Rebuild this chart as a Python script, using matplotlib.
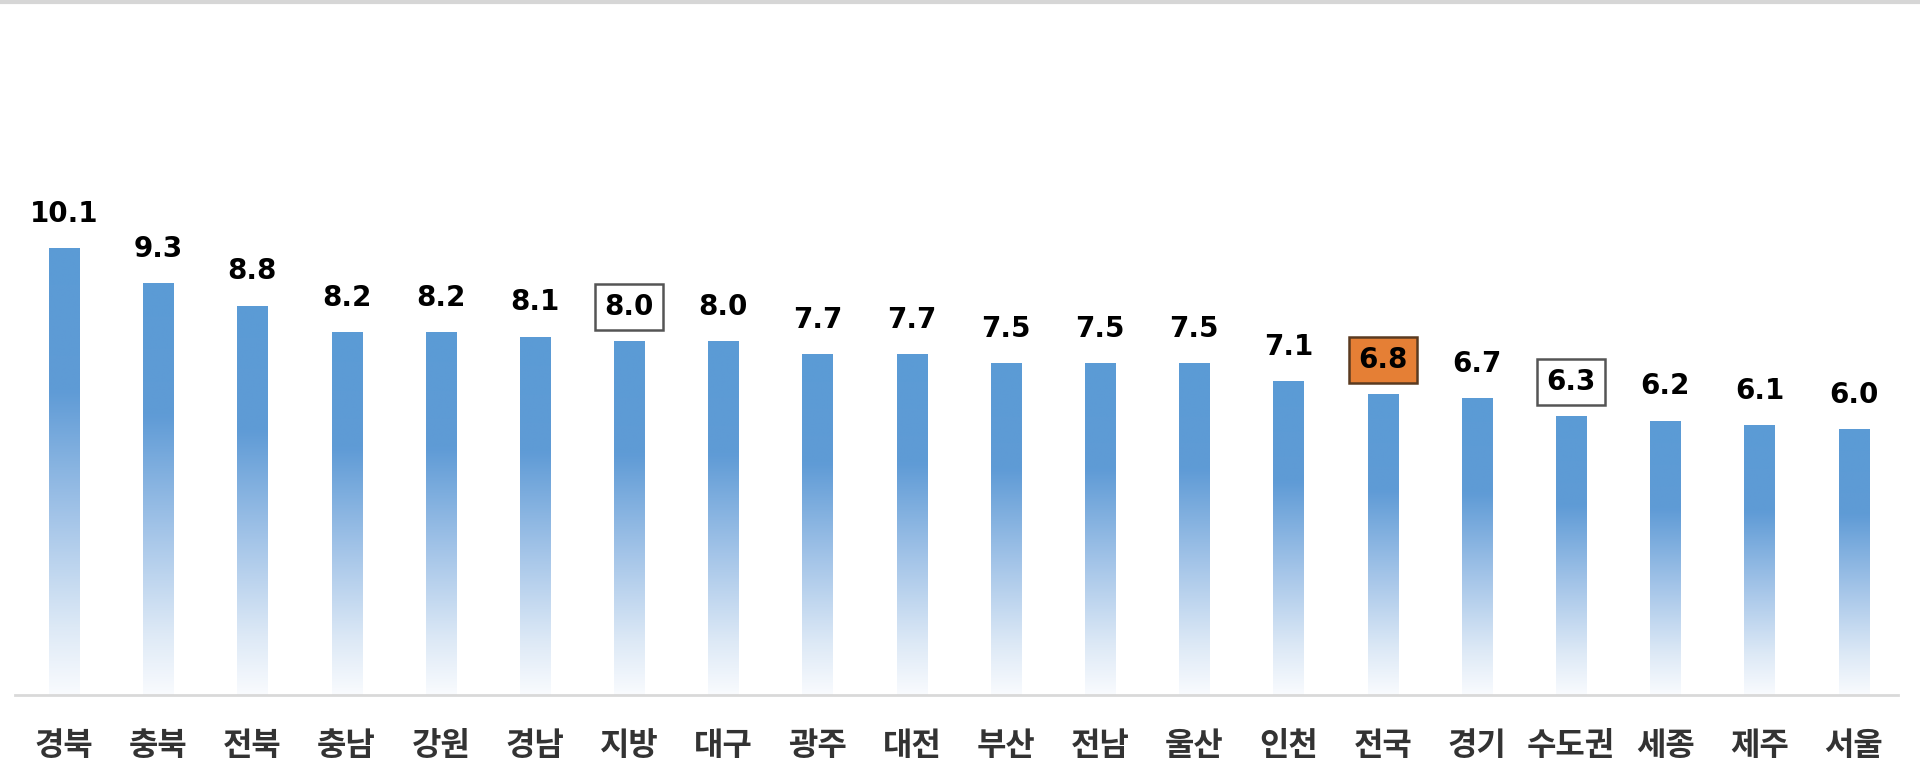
import matplotlib.pyplot as plt
import numpy as np
from matplotlib.colors import LinearSegmentedColormap
from matplotlib.lines import Line2D

plt.rcParams['font.family'] = ['DejaVu Sans', 'Noto Sans CJK KR']

# 지역별 값
regions = ['경북', '충북', '전북', '충남', '강원', '경남', '지방', '대구', '광주', '대전',
           '부산', '전남', '울산', '인천', '전국', '경기', '수도권', '세종', '제주', '서울']
values = [10.1, 9.3, 8.8, 8.2, 8.2, 8.1, 8.0, 8.0, 7.7, 7.7,
          7.5, 7.5, 7.5, 7.1, 6.8, 6.7, 6.3, 6.2, 6.1, 6.0]
boxed = ['지방', '수도권']
highlight = ['전국']

fig = plt.figure(figsize=(19.2, 7.68), dpi=100)
ax = fig.add_axes([15 / 1920, 73 / 768, 1883 / 1920, 685 / 768])

# 막대 그라데이션 (아래 흰색 -> 위 파란색)
cmap = LinearSegmentedColormap.from_list(
    'bar', [(0.0, '#f9fbfe'), (0.15, '#dde9f6'), (0.4, '#a3c4e8'),
            (0.68, '#5f9bd6'), (1.0, '#5b9bd5')])
grad = np.linspace(0, 1, 256).reshape(-1, 1)
w = 0.32
x = np.arange(len(regions))
for xi, v in zip(x, values):
    ax.imshow(grad, extent=[xi - w / 2, xi + w / 2, 0, v], origin='lower',
              aspect='auto', cmap=cmap, vmin=0, vmax=1, zorder=2,
              interpolation='bicubic')

# 값 라벨
for xi, v, r in zip(x, values, regions):
    kw = dict(ha='center', va='center', fontsize=20, fontweight='bold',
              color='black', zorder=5)
    if r in boxed:
        kw['bbox'] = dict(boxstyle='square,pad=0.33', fc='white', ec='#555555', lw=1.8)
    elif r in highlight:
        kw['bbox'] = dict(boxstyle='square,pad=0.33', fc='#e57f35', ec='#5a3a20', lw=1.8)
    ax.annotate(f'{v:.1f}', (xi, v), xytext=(0, 25), textcoords='offset points', **kw)

ax.set_xlim(-0.52, 19.47)
ax.set_ylim(0, 15.5)

ax.set_xticks(x)
ax.set_xticklabels(regions, family=['Noto Sans CJK KR', 'DejaVu Sans'],
                   fontsize=23, fontweight='bold', color='#333333')
ax.tick_params(axis='x', length=0, pad=25)
ax.set_yticks([])
for s in ['top', 'left', 'right']:
    ax.spines[s].set_visible(False)
ax.spines['bottom'].set_color('#d9d9d9')
ax.spines['bottom'].set_linewidth(2)

# 위쪽 회색 테두리
fig.add_artist(Line2D([0, 1], [0.997, 0.997], color='#d6d6d6', lw=3,
                      transform=fig.transFigure))

fig.savefig('out.png', dpi=100)
